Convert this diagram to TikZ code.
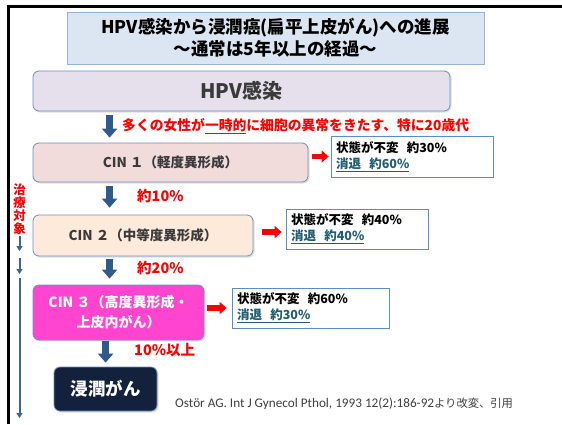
\documentclass[tikz,border=0pt]{standalone}
\usepackage{fontspec}
\setmainfont{Noto Sans CJK JP}
\newfontfamily\carl{Carlito}
\usetikzlibrary{arrows.meta,calc,shadows}
\definecolor{titlefill}{HTML}{DCE6F2}
\definecolor{titledraw}{HTML}{95B3D7}
\definecolor{hpvfill}{HTML}{E5E0EC}
\definecolor{boxdraw}{HTML}{6D8FC0}
\definecolor{cinone}{HTML}{F2DCDB}
\definecolor{cintwo}{HTML}{FDEADA}
\definecolor{cinthree}{HTML}{FF45CF}
\definecolor{invfill}{HTML}{13213C}
\definecolor{arrowblue}{HTML}{2E5A8E}
\definecolor{tealtext}{HTML}{215E72}
\definecolor{labgray}{HTML}{3A3A3A}
\definecolor{resdraw}{HTML}{5B8BC9}
\definecolor{citegray}{HTML}{404040}
\definecolor{sidearrow}{HTML}{3B6593}
\begin{document}
\begin{tikzpicture}[x=1pt,y=-1pt,
  stage/.style={draw=boxdraw, line width=0.8pt, rounded corners=6pt,
    drop shadow={opacity=0.25,shadow xshift=1.5pt,shadow yshift=-1.5pt},
    text=labgray, inner sep=0pt, align=center},
  result/.style={draw=resdraw, line width=0.8pt, fill=white, inner xsep=5pt,
    inner ysep=0pt, align=left, font=\bfseries\fontsize{12.5}{16}\selectfont},
  downarrow/.style={arrowblue, line width=7pt, -{Triangle[width=15pt,length=9pt]}},
  rightarrow/.style={red, line width=5.5pt, -{Triangle[width=12pt,length=7pt]}},
  sidearr/.style={sidearrow, line width=2pt, -{Triangle[width=6pt,length=5pt]}},
  redlabel/.style={text=red, font=\bfseries\fontsize{14.5}{17}\selectfont, inner sep=0pt, anchor=west}
]
\useasboundingbox (0,0) rectangle (562,424);
\fill[white] (0,0) rectangle (562,424);
% frame
\draw[line width=3pt] (8.5,424) -- (8.5,6.5) -- (562,6.5);

% title
\node[draw=titledraw, fill=titlefill, line width=0.8pt, minimum width=417pt, minimum height=52pt,
  inner sep=0pt, align=center, font=\bfseries\fontsize{17.5}{22}\selectfont] (title) at (275.5,38)
  {HPV感染から浸潤癌(扁平上皮がん)への進展\\～通常は5年以上の経過～};

% stages
\node[stage, fill=hpvfill, minimum width=417pt, minimum height=40pt,
  font=\bfseries\fontsize{20}{24}\selectfont] (hpv) at (241.5,91) {HPV感染};
\node[stage, fill=cinone, minimum width=275pt, minimum height=39pt,
  font=\bfseries\fontsize{13.5}{16}\selectfont] (cin1) at (170.5,162.5) {CIN~１（軽度異形成）};
\node[stage, fill=cintwo, minimum width=220pt, minimum height=41pt,
  font=\bfseries\fontsize{13.5}{16}\selectfont] (cin2) at (143,235.5) {CIN~２（中等度異形成）};
\node[stage, fill=cinthree, minimum width=171pt, minimum height=55pt, text=white,
  font=\bfseries\fontsize{14}{20}\selectfont] (cin3) at (118.5,312.5) {CIN~３（高度異形成・\\上皮内がん）};
\node[stage, fill=invfill, minimum width=103pt, minimum height=44pt, text=white,
  font=\bfseries\fontsize{17.5}{20}\selectfont] (inv) at (105.5,389) {浸潤がん};

% results
\node[result, text width=152pt, minimum height=41pt] (r1) at (412,156.5)
  {状態が不変~~約30\%\\\textcolor{tealtext}{\underline{消退~~約60\%}}};
\node[result, text width=132pt, minimum height=40pt] (r2) at (357,229)
  {状態が不変~~約40\%\\\textcolor{tealtext}{\underline{消退~~約40\%}}};
\node[result, text width=147pt, minimum height=40pt] (r3) at (310.5,308)
  {状態が不変~~約60\%\\\textcolor{tealtext}{\underline{消退~~約30\%}}};

% down arrows
\draw[downarrow] ($(hpv.south west)+(77,4)$) -- ($(cin1.north west)+(77,-5)$);
\draw[downarrow] ($(cin1.south west)+(77,4)$) -- ($(cin2.north west)+(77,-7)$);
\draw[downarrow] ($(cin2.south west)+(77,3)$) -- ($(cin3.north west)+(77,-6)$);
\draw[downarrow] ($(cin3.south west)+(73,1)$) -- ($(inv.north west)+(52,-4)$);

% right arrows
\draw[rightarrow] ($(cin1.east |- r1.west)+(4,0)$) -- ($(r1.west)+(-2,0)$);
\draw[rightarrow] ($(cin2.east)+(9,-3.5)$) -- ($(r2.west)+(-4,3)$);
\draw[rightarrow] ($(cin3.east |- r3.west)+(3,0)$) -- ($(r3.west)+(-5,0)$);

% red labels
\node[redlabel, font=\bfseries\fontsize{13.8}{17}\selectfont] (note) at (122,126) {多くの女性が\underline{一時的}に細胞の異常をきたす、特に20歳代};
\node[redlabel] (p1) at (137,196) {約10\%};
\node[redlabel] (p2) at (137,268) {約20\%};
\node[redlabel] (p3) at (134,350) {10\%以上};

% treatment target
\node[text=red, font=\bfseries\fontsize{12.5}{13}\selectfont, inner sep=0pt, align=center] (treat) at (19.5,209)
  {治\\療\\対\\象};
\coordinate (a1s) at (19.5,236);
\coordinate (a1e) at (19.5,251);
\coordinate (a2s) at (19.5,258);
\coordinate (a2e) at (19.5,274);
\coordinate (a3s) at (19.5,278);
\coordinate (a3e) at (19.5,418);
\draw[sidearr] (a1s) -- (a1e);
\draw[sidearr] (a2s) -- (a2e);
\draw[sidearr] (a3s) -- (a3e);

% citation
\node[anchor=west, inner sep=0pt, text=citegray, font=\fontsize{11.3}{13}\selectfont] (cite) at (175,404)
  {{\carl\fontsize{13.2}{14}\selectfont Ostör AG. Int J Gynecol Pthol, 1993 12(2):186-92}より改変、引用};
\end{tikzpicture}
\end{document}
